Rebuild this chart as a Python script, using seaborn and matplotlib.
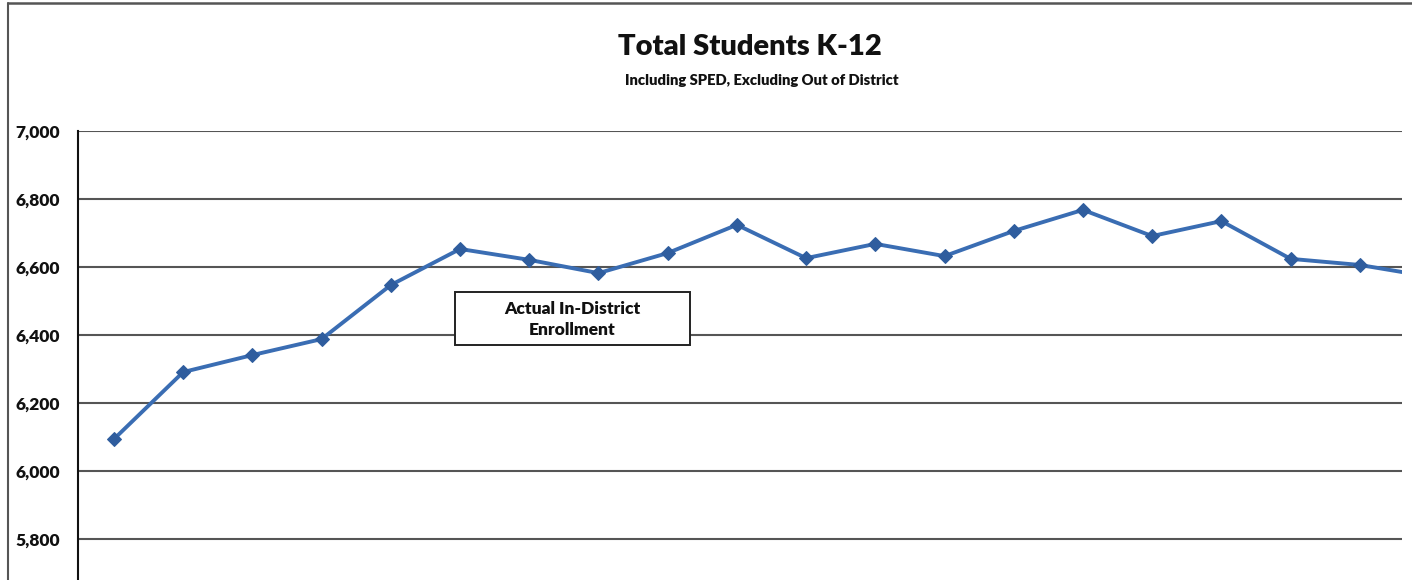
import matplotlib
matplotlib.use("Agg")
import matplotlib.pyplot as plt
import seaborn as sns
import pandas as pd
from matplotlib.patches import Rectangle
from matplotlib.lines import Line2D
from matplotlib.ticker import FuncFormatter

# ---- data ----
point_index = list(range(20))
enrollment = [6094, 6291, 6341, 6388, 6547, 6653, 6621, 6582, 6641, 6724,
              6626, 6668, 6632, 6706, 6768, 6691, 6735, 6624, 6606, 6572]
y_ticks = [5800, 6000, 6200, 6400, 6600, 6800, 7000]
title = "Total Students K-12"
subtitle = "Including SPED, Excluding Out of District"
box_label = "Actual In-District\nEnrollment"

df = pd.DataFrame({"idx": point_index, "students": enrollment})

sns.set_theme(style="white")
plt.rcParams["font.family"] = ["Lato", "DejaVu Sans"]

W, H = 1412, 580
fig = plt.figure(figsize=(W / 100, H / 100), dpi=100)
fig.patch.set_facecolor("white")

def fx(px):
    return px / W

def fy(py):
    return 1 - py / H

ax_left, ax_right, ax_top, ax_bottom = 78, 1402, 131, 607
ax = fig.add_axes([fx(ax_left), fy(ax_bottom), fx(ax_right - ax_left), fy(ax_top) - fy(ax_bottom)])

sns.lineplot(data=df, x="idx", y="students", ax=ax, color="#3a6db3", linewidth=2.8,
             marker="D", markersize=7.5, markerfacecolor="#2f5d9e", markeredgecolor="#2f5d9e",
             zorder=5, clip_on=True)

ax.set_xlim(-0.52, 18.61)
ax.set_ylim(5600, 7000)
ax.set_yticks(y_ticks)
ax.yaxis.set_major_formatter(FuncFormatter(lambda v, p: f"{int(v):,}"))
ax.set_xticks([])
ax.set_xlabel("")
ax.set_ylabel("")

for v in y_ticks:
    ax.axhline(v, color="#555555", linewidth=1.5, zorder=1)

for s in ["top", "right", "bottom"]:
    ax.spines[s].set_visible(False)
ax.spines["left"].set_color("#111111")
ax.spines["left"].set_linewidth(1.5)
ax.tick_params(axis="y", which="major", direction="out", length=6, width=1.2,
               color="#111111", pad=7, labelsize=12.5, labelcolor="#111111")
for lbl in ax.get_yticklabels():
    lbl.set_fontweight("heavy")

# titles
fig.text(fx(750), fy(47), title, ha="center", va="center", fontsize=21,
         fontweight="heavy", color="#111111")
fig.text(fx(762), fy(80), subtitle, ha="center", va="center", fontsize=10.6,
         fontweight="heavy", color="#111111")

# annotation box
bx0, bx1, by0, by1 = 455, 690, 292, 345
fig.patches.append(Rectangle((fx(bx0), fy(by1)), fx(bx1 - bx0), fy(by0) - fy(by1),
                             transform=fig.transFigure, facecolor="white",
                             edgecolor="#222222", linewidth=1.4, zorder=10))
fig.text(fx((bx0 + bx1) / 2), fy((by0 + by1) / 2 + 1), box_label, ha="center", va="center",
         fontsize=12.5, fontweight="heavy", color="#111111", linespacing=1.4, zorder=11)

# outer chart border (cropped): top and left edges only
fig.lines.append(Line2D([fx(8), 1.0], [fy(3), fy(3)], transform=fig.transFigure,
                        color="#555555", linewidth=1.8))
fig.lines.append(Line2D([fx(8), fx(8)], [0.0, fy(3)], transform=fig.transFigure,
                        color="#555555", linewidth=1.5))

fig.savefig("out.png", dpi=100, facecolor="white")
